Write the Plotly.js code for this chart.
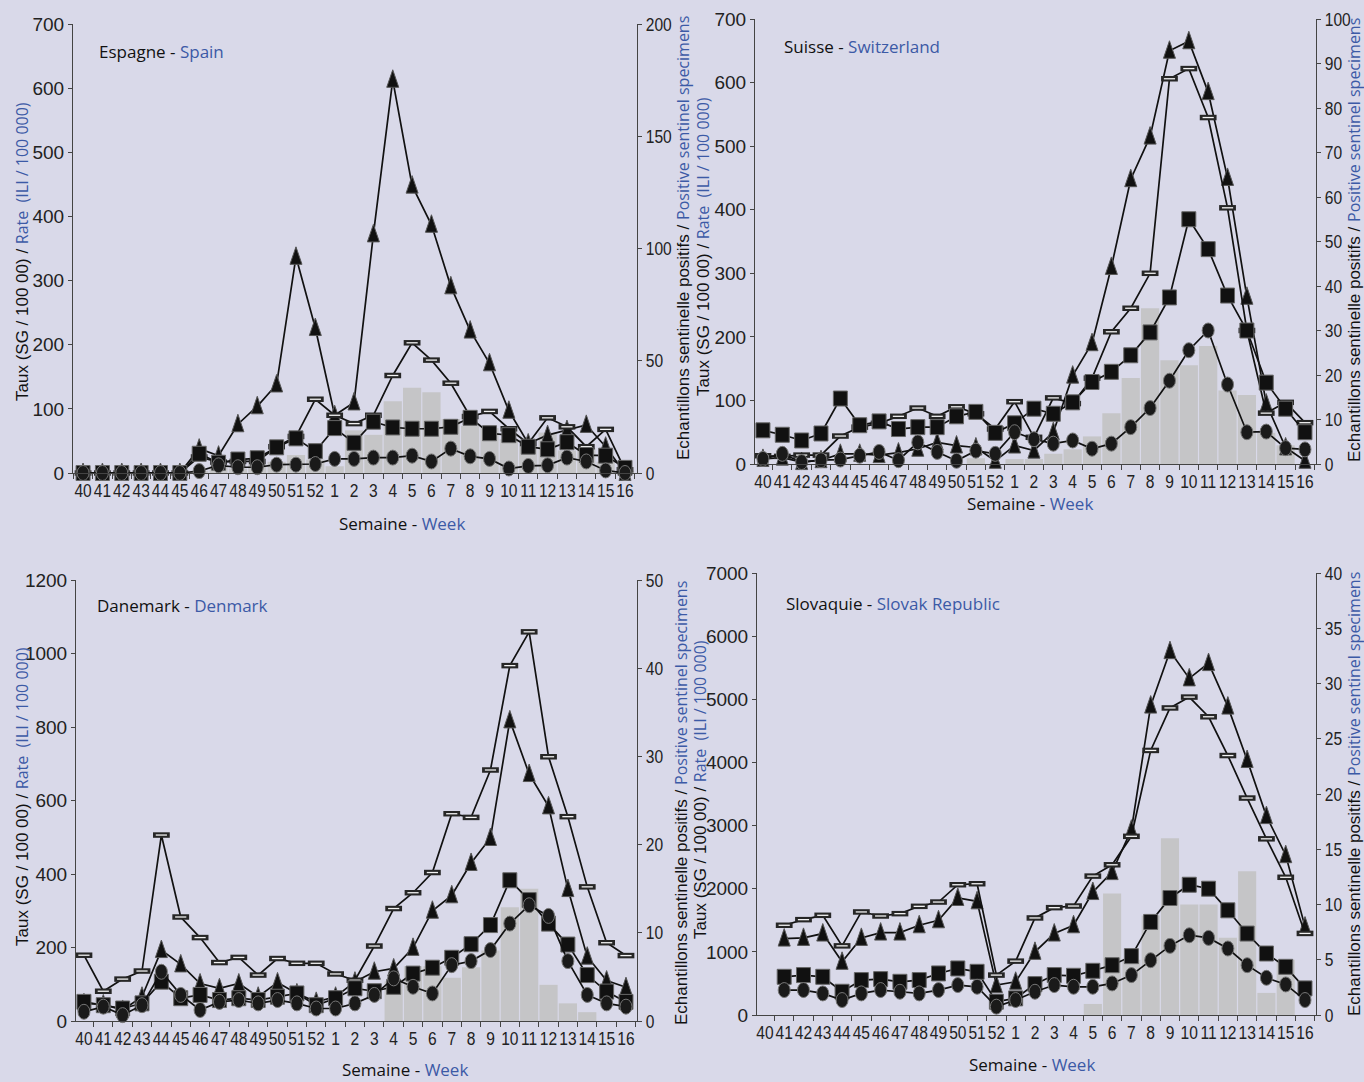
<!DOCTYPE html>
<html>
<head>
<meta charset="utf-8">
<script src="https://cdn.plot.ly/plotly-3.0.1.min.js"></script>
<style>
  html, body { margin: 0; padding: 0; background: #d9d9e9; }
  #chart { width: 1364px; height: 1082px; }
</style>
</head>
<body>
<div id="chart"></div>
<script>
// ---------- DATA ----------
const weeks = ['40','41','42','43','44','45','46','47','48','49','50','51','52','1','2','3','4','5','6','7','8','9','10','11','12','13','14','15','16'];

// Espagne - Spain
const spainTri  = [0,0,0,0,0,0,38,27,76,104,138,337,226,90,110,372,613,448,387,291,222,171,97,46,59,67,75,41,0];
const spainDash = [0,0,0,0,0,0,25,17,18,18,41,57,115,90,77,90,152,203,176,140,88,96,69,46,86,72,41,68,5];
const spainSq   = [0,0,0,0,0,0,30,16,21,23,40,54,34,70,47,80,71,69,69,72,86,62,59,41,37,48,28,27,8];
const spainCirc = [0,0,0,0,0,0,3,12,9,9,13,13,14,22,22,24,24,27,18,38,26,22,7,11,12,24,18,4,0];
const spainBars = [0,0,0,0,0,0,1,3,2,4,5,8,6,3,19,17,32,38,36,24,21,20,15,12,18,10,11,5,1];

// Suisse - Switzerland
const swissTri  = [8,10,3,6,16,16,14,18,24,34,29,26,5,29,21,50,139,190,310,448,515,650,665,585,450,263,95,26,5];
const swissDash = [13,12,14,14,44,58,64,75,88,75,90,79,55,98,42,104,95,135,208,245,300,606,622,545,403,210,80,97,65];
const swissSq   = [53,46,37,48,103,61,67,55,58,58,75,82,49,64,87,79,97,129,145,171,207,262,385,338,265,210,128,87,50];
const swissCirc = [8,16,3,6,7,13,19,6,34,19,5,21,16,50,39,32,37,24,32,58,88,131,179,210,125,50,51,25,23];
const swissBars = [0,0,0,0,0,0,0,0,0,0,0,1.3,0,1.1,1.1,2.3,3.3,6.2,11.4,19.3,35,23.3,22.2,26.5,16.5,15.5,7,4.2,0];

// Danemark - Denmark
const denTri  = [48,45,30,66,193,154,102,89,102,66,105,75,52,66,107,134,143,199,300,342,430,498,818,672,584,359,175,110,92];
const denDash = [179,81,114,136,506,283,227,159,173,125,170,157,157,128,111,204,306,349,404,564,554,683,967,1059,719,556,365,213,178];
const denSq   = [52,43,34,48,107,62,71,57,62,57,66,75,43,62,89,81,93,129,145,172,209,261,383,329,265,208,125,80,52];
const denCirc = [25,39,16,43,134,71,30,52,57,48,57,48,34,34,48,71,116,93,75,152,163,193,265,315,286,163,71,48,39];
const denBars = [0,0,0,0,0,0,0,0,0,0,0,0,0,0,0,0,4.5,6.2,6.2,4.9,6.1,8,12.9,15,4.1,2,1,0,0];

// Slovaquie - Slovak Republic
const slovTri  = [null,1210,1221,1290,842,1221,1305,1305,1421,1500,1853,1800,474,526,1000,1290,1421,1947,2263,2935,4900,5762,5331,5573,4884,4038,3150,2531,1400];
const slovDash = [null,1421,1510,1579,1095,1632,1568,1605,1721,1789,2063,2079,632,853,1537,1700,1726,2200,2379,2830,4190,4863,5035,4723,4109,3436,2790,2181,1292];
const slovSq   = [null,605,632,605,368,553,568,526,553,658,737,684,211,263,489,632,621,700,789,932,1474,1853,2063,2000,1658,1290,974,763,421];
const slovCirc = [null,395,395,342,237,342,395,368,342,395,474,447,132,237,368,474,447,447,500,632,868,1095,1263,1221,1053,789,589,484,237];
const slovBars = [0,0,0,0,0,0,0,0,0,0,0,0,0,0,0,0,0,1,11,5,9,16,10,10,7,13,2,5,0];

// ---------- STYLE ----------
const W = 1364, H = 1082;
const BG = '#d9d9e9';
const BLUE = '#3c5aa6';
const TICKFAM = '"Liberation Sans", Arial, sans-serif';
const SANS = '"Open Sans", "Noto Sans", sans-serif';
const px = x => x / W;
const py = y => 1 - y / H;

function panelTraces(key, xa, yBar, yLine, tri, dash, sq, circ, bars) {
  const common = { x: weeks, xaxis: xa, yaxis: yLine, cliponaxis: false, hoverinfo: 'skip', showlegend: false };
  const ln = { color: '#111', width: 1.7 };
  return [
    { type: 'bar', x: weeks, y: bars, xaxis: xa, yaxis: yBar, marker: { color: '#c5c5c7', line: { width: 0 } }, hoverinfo: 'skip', showlegend: false },
    Object.assign({ uid: 'tri' + key, type: 'scatter', mode: 'lines+markers', y: tri, line: ln,
      marker: { symbol: 'triangle-up', size: 14, color: '#111', line: { color: '#555', width: 1 } } }, common),
    Object.assign({ uid: 'dsh' + key, type: 'scatter', mode: 'lines+markers', y: dash, line: ln,
      marker: { symbol: 'line-ew', size: 12, color: '#222', line: { color: '#262626', width: 5.5 } } }, common),
    Object.assign({ uid: 'dsw' + key, type: 'scatter', mode: 'markers', y: dash,
      marker: { symbol: 'line-ew', size: 8, color: '#fff', line: { color: '#f2f2f2', width: 1.3 } } }, common),
    Object.assign({ uid: 'sqr' + key, type: 'scatter', mode: 'lines+markers', y: sq, line: ln,
      marker: { symbol: 'square', size: 14, color: '#111', line: { color: '#666', width: 1 } } }, common),
    Object.assign({ uid: 'cir' + key, type: 'scatter', mode: 'lines+markers', y: circ, line: ln,
      marker: { symbol: 'circle', size: 13, color: '#1a1a1a', line: { color: '#777', width: 1 } } }, common)
  ];
}

const data = [].concat(
  panelTraces('a', 'x',  'y',  'y2', spainTri, spainDash, spainSq, spainCirc, spainBars),
  panelTraces('b', 'x2', 'y3', 'y4', swissTri, swissDash, swissSq, swissCirc, swissBars),
  panelTraces('c', 'x3', 'y5', 'y6', denTri, denDash, denSq, denCirc, denBars),
  panelTraces('d', 'x4', 'y7', 'y8', slovTri, slovDash, slovSq, slovCirc, slovBars)
);

const tickFont = { family: TICKFAM, size: 19, color: '#222' };

function xAxis(dom, anchor, range) {
  return {
    domain: dom, anchor: anchor, type: 'category', categoryorder: 'array', categoryarray: weeks,
    range: range, tickmode: 'linear', tick0: 0, dtick: 1,
    tickson: 'boundaries', ticks: 'outside', ticklen: 5, tickcolor: '#444',
    showline: true, linecolor: '#444', linewidth: 1, showgrid: false, zeroline: false,
    tickfont: tickFont, tickangle: 0, fixedrange: true
  };
}
function yAxis(dom, anchor, range, dtick, side, overlay) {
  const a = {
    anchor: anchor, range: range, dtick: dtick, tick0: 0, side: side,
    ticks: 'outside', ticklen: 4, tickcolor: '#444',
    showline: true, linecolor: '#444', linewidth: 1, showgrid: false, zeroline: false,
    tickfont: tickFont, fixedrange: true
  };
  if (overlay) a.overlaying = overlay; else a.domain = dom;
  return a;
}

const d1x = [px(73), px(637)],  d1y = [py(473), py(24)];
const d2x = [px(755), px(1316)], d2y = [py(464), py(19)];
const d3x = [px(76), px(637)],  d3y = [py(1021), py(580)];
const d4x = [px(757), px(1316)], d4y = [py(1015), py(573)];

const leftTitle = '<span style="font-family:\'Liberation Sans\'; font-size:17px">Taux (SG / 100 00) / </span><span style="color:' + BLUE + '">Rate  (ILI / 100 000)</span>';
const rightTitle = '<span style="font-family:\'Liberation Sans\'; font-size:17px">Echantillons sentinelle positifs / </span><span style="color:' + BLUE + '">Positive sentinel specimens</span>';
const weekTitle = 'Semaine - <span style="color:' + BLUE + '">Week</span>';

function ann(x, y, text, opts) {
  return Object.assign({ xref: 'paper', yref: 'paper', x: px(x), y: py(y), text: text, showarrow: false,
    xanchor: 'center', yanchor: 'middle', font: { family: SANS, size: 17, color: '#111' } }, opts || {});
}
const vLeft = { textangle: -90, font: { family: SANS, size: 16, color: '#111' } };
const vRight = { textangle: -90, font: { family: SANS, size: 16, color: '#111' } };

const annotations = [
  ann(97, 51, 'Espagne - <span style="color:' + BLUE + '">Spain</span>', { xanchor: 'left' }),
  ann(782, 47, 'Suisse - <span style="color:' + BLUE + '">Switzerland</span>', { xanchor: 'left' }),
  ann(95, 605, 'Danemark - <span style="color:' + BLUE + '">Denmark</span>', { xanchor: 'left' }),
  ann(784, 603, 'Slovaquie - <span style="color:' + BLUE + '">Slovak Republic</span>', { xanchor: 'left' }),

  ann(402, 523, weekTitle), ann(1030, 503, weekTitle),
  ann(405, 1069, weekTitle), ann(1032, 1064, weekTitle),

  ann(22, 252, leftTitle, vLeft),
  ann(703, 247, leftTitle, vLeft),
  ann(22, 797, leftTitle, vLeft),
  ann(700, 790, leftTitle, vLeft),

  ann(683, 238, rightTitle, vRight),
  ann(1354, 240, rightTitle, vRight),
  ann(681, 803, rightTitle, vRight),
  ann(1354, 794, rightTitle, vRight)
];

const layout = {
  width: W, height: H,
  margin: { l: 0, r: 0, t: 0, b: 0 },
  paper_bgcolor: BG, plot_bgcolor: 'rgba(0,0,0,0)',
  showlegend: false, barmode: 'overlay', bargap: 0.06,
  font: { family: SANS, color: '#111' },
  xaxis:  xAxis(d1x, 'y',  [-0.52, 28.62]),
  xaxis2: xAxis(d2x, 'y3', [-0.41, 28.57]),
  xaxis3: xAxis(d3x, 'y5', [-0.41, 28.57]),
  xaxis4: xAxis(d4x, 'y7', [-0.41, 28.57]),
  yaxis:  yAxis(d1y, 'x',  [0, 200], 50, 'right'),
  yaxis2: yAxis(d1y, 'x',  [0, 700], 100, 'left', 'y'),
  yaxis3: yAxis(d2y, 'x2', [0, 100], 10, 'right'),
  yaxis4: yAxis(d2y, 'x2', [0, 700], 100, 'left', 'y3'),
  yaxis5: yAxis(d3y, 'x3', [0, 50], 10, 'right'),
  yaxis6: yAxis(d3y, 'x3', [0, 1200], 200, 'left', 'y5'),
  yaxis7: yAxis(d4y, 'x4', [0, 40], 5, 'right'),
  yaxis8: yAxis(d4y, 'x4', [0, 7000], 1000, 'left', 'y7'),
  annotations: annotations
};

// marker outlines closer to the original glyphs (tall triangles, upright ellipses)
const SHAPES = {
  tri: 'M-6,7.5H6L0,-10Z',
  cir: 'M6,0A6,7.5 0 1,1 -6,0A6,7.5 0 1,1 6,0Z',
  sqr: 'M-7,-7.5H7V7.5H-7Z'
};

function restyleMarks() {
  const gd = document.getElementById('chart');
  try {
    Object.keys(SHAPES).forEach(function (k) {
      gd.querySelectorAll('g[class*="trace' + k + '"] path.point').forEach(function (p) {
        p.setAttribute('d', SHAPES[k]);
      });
    });
  } catch (e) { console.error(e); }
  try {
    gd.querySelectorAll('g.xaxislayer-above text, g.yaxislayer-above text').forEach(function (t) {
      if (t.getAttribute('data-cond')) return;
      t.setAttribute('data-cond', '1');
      const x = parseFloat(t.getAttribute('x')) || 0;
      const tr = t.getAttribute('transform') || '';
      t.setAttribute('transform', tr + ' translate(' + x + ',0) scale(0.82,1) translate(' + (-x) + ',0)');
    });
  } catch (e) { console.error(e); }
}

Plotly.newPlot('chart', data, layout, { displayModeBar: false, staticPlot: true }).then(restyleMarks);
</script>
</body>
</html>
